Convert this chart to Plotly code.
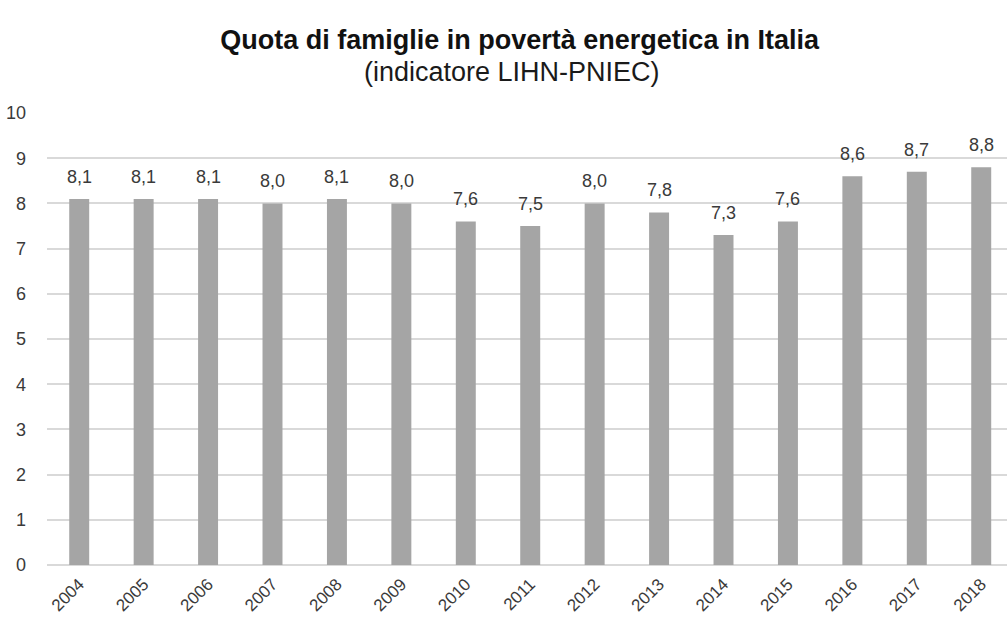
import plotly.graph_objects as go

years = ["2004", "2005", "2006", "2007", "2008", "2009", "2010", "2011",
         "2012", "2013", "2014", "2015", "2016", "2017", "2018"]
values = [8.1, 8.1, 8.1, 8.0, 8.1, 8.0, 7.6, 7.5, 8.0, 7.8, 7.3, 7.6, 8.6, 8.7, 8.8]
y_ticks = list(range(0, 11))

font_main = "Liberation Sans Narrow, Arial Narrow, Liberation Sans, Arial, sans-serif"
txt = "#3a3a3a"

fig = go.Figure(go.Bar(
    x=years, y=values,
    marker=dict(color="#a5a5a5", line=dict(width=0)),
    hoverinfo="x+y",
))

plot_h = 619 - 113 - 54

labels = [dict(x=i, y=v, xref="x", yref="y", text=f"{v:.1f}".replace(".", ","),
               showarrow=False, yanchor="middle", yshift=22,
               font=dict(size=18, color=txt, family=font_main))
          for i, v in enumerate(values)]

labels.append(dict(text="(indicatore LIHN-PNIEC)",
                   x=(512 - 47) / (1007 - 47), y=1 + (113 - 72) / plot_h,
                   xref="paper", yref="paper", xanchor="center", yanchor="middle",
                   showarrow=False, font=dict(size=27, color="#1a1a1a", family=font_main)))

fig.update_layout(
    width=1007, height=619,
    paper_bgcolor="white", plot_bgcolor="white",
    margin=dict(l=47, r=0, t=113, b=54),
    bargap=0.69,
    showlegend=False,
    font=dict(family=font_main, color=txt),
    title=dict(
        text="<b>Quota di famiglie in povertà energetica in Italia</b>",
        x=0.516, xanchor="center", y=1 - 40 / 619, yanchor="middle",
        font=dict(size=27, color="#111111", family=font_main),
    ),
    annotations=labels,
)

fig.update_xaxes(
    type="category", automargin=False,
    range=[-0.5, 14.4], tickangle=-45,
    tickfont=dict(size=17, color=txt),
    showgrid=False, showline=False, ticks="", ticklabelstandoff=5,
)
fig.update_yaxes(
    range=[0, 10], tickvals=y_ticks, automargin=False,
    tickfont=dict(size=18, color=txt),
    showgrid=True, gridcolor="#d9d9d9", gridwidth=1.5,
    zeroline=True, zerolinecolor="#d9d9d9", zerolinewidth=1.5,
    showline=False, ticks="", ticklen=0, ticklabelstandoff=20,
)

fig.write_html("out.html")
